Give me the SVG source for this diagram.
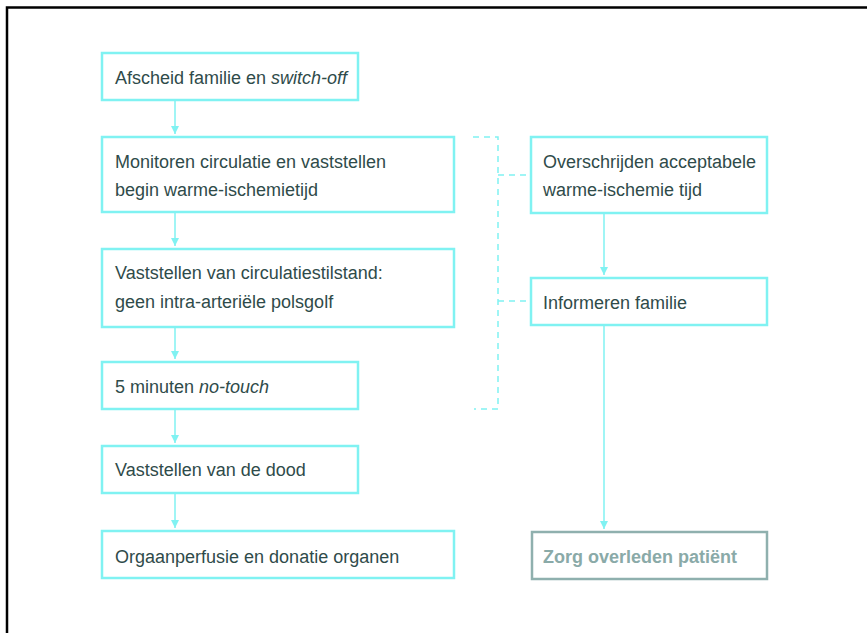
<svg xmlns="http://www.w3.org/2000/svg" width="867" height="633" viewBox="0 0 867 633">
<style>
.box{fill:#fff;stroke:#80f2f2;stroke-width:2.5}
.gbox{fill:#fff;stroke:#8fb0ae;stroke-width:2.5}
.t{font-family:"Liberation Sans",Arial,sans-serif;font-size:18px;fill:#2f4b4a}
.g{font-family:"Liberation Sans",Arial,sans-serif;font-size:18px;font-weight:bold;fill:#8aaaa8}
.c{stroke:#80f2f2;stroke-width:1.5;fill:none}
.d{stroke:#80f2f2;stroke-width:1.5;fill:none;stroke-dasharray:6,5}
</style>
<defs>
<marker id="ah" markerWidth="8" markerHeight="8" refX="8" refY="4" orient="auto" markerUnits="userSpaceOnUse">
<path d="M0,0 L8,4 L0,8 Z" fill="#80f2f2"/>
</marker>
</defs>
<rect x="0" y="0" width="867" height="633" fill="#fff"/>
<path d="M7,633 V7.5 H867" fill="none" stroke="#000" stroke-width="2.5"/>
<g id="connectors">
<line class="c" x1="175" y1="100" x2="175" y2="134" marker-end="url(#ah)"/>
<line class="c" x1="175" y1="212" x2="175" y2="246" marker-end="url(#ah)"/>
<line class="c" x1="175" y1="327" x2="175" y2="359" marker-end="url(#ah)"/>
<line class="c" x1="175" y1="409" x2="175" y2="443" marker-end="url(#ah)"/>
<line class="c" x1="175" y1="493" x2="175" y2="528" marker-end="url(#ah)"/>
<line class="c" x1="604" y1="213" x2="604" y2="275" marker-end="url(#ah)"/>
<line class="c" x1="604" y1="325" x2="604" y2="529" marker-end="url(#ah)"/>
<path class="d" d="M473,137 H498 V409 H474"/>
<line class="d" x1="498" y1="175" x2="531" y2="175"/>
<line class="d" x1="498" y1="301" x2="531" y2="301"/>
</g>
<g id="n1"><rect class="box" x="102" y="53" width="256" height="47"/><text class="t" x="115" y="84">Afscheid familie en <tspan font-style="italic">switch-off</tspan></text></g>
<g id="n2"><rect class="box" x="102" y="137" width="352" height="75"/><text class="t" x="115" y="168">Monitoren circulatie en vaststellen</text><text class="t" x="115" y="196">begin warme-ischemietijd</text></g>
<g id="n3"><rect class="box" x="102" y="249" width="352" height="78"/><text class="t" x="115" y="279">Vaststellen van circulatiestilstand:</text><text class="t" x="115" y="308">geen intra-arteriële polsgolf</text></g>
<g id="n4"><rect class="box" x="102" y="362" width="256" height="47"/><text class="t" x="115" y="393">5 minuten <tspan font-style="italic">no-touch</tspan></text></g>
<g id="n5"><rect class="box" x="102" y="446" width="256" height="47"/><text class="t" x="115" y="476">Vaststellen van de dood</text></g>
<g id="n6"><rect class="box" x="102" y="531" width="352" height="47"/><text class="t" x="115" y="563">Orgaanperfusie en donatie organen</text></g>
<g id="r1"><rect class="box" x="531" y="137" width="236" height="76"/><text class="t" x="543" y="168">Overschrijden acceptabele</text><text class="t" x="543" y="196">warme-ischemie tijd</text></g>
<g id="r2"><rect class="box" x="531" y="278" width="236" height="47"/><text class="t" x="543" y="309">Informeren familie</text></g>
<g id="r3"><rect class="gbox" x="532" y="532" width="235" height="47"/><text class="g" x="543" y="563">Zorg overleden patiënt</text></g>
</svg>
